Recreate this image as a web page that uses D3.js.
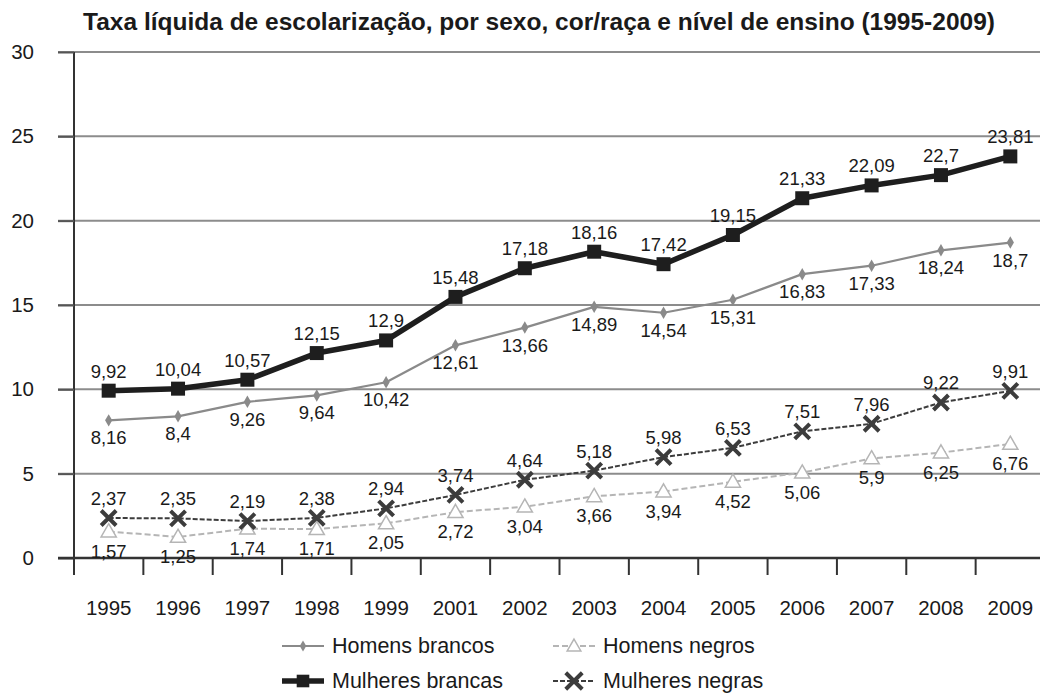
<!DOCTYPE html>
<html>
<head>
<meta charset="utf-8">
<script src="https://cdn.jsdelivr.net/npm/d3@7"></script>
<style>
  body { margin: 0; background: #fff; }
  svg { font-family: "Liberation Sans", Arial, sans-serif; }
</style>
</head>
<body>
<div id="chart"></div>
<script>
const width = 1040, height = 693;
const margin = { top: 52, right: -5, bottom: 135, left: 74 };

const titulo = "Taxa líquida de escolarização, por sexo, cor/raça e nível de ensino (1995-2009)";
const anos = ["1995", "1996", "1997", "1998", "1999", "2001", "2002", "2003", "2004", "2005", "2006", "2007", "2008", "2009"];
const homensBrancos = [8.16, 8.4, 9.26, 9.64, 10.42, 12.61, 13.66, 14.89, 14.54, 15.31, 16.83, 17.33, 18.24, 18.7];
const mulheresBrancas = [9.92, 10.04, 10.57, 12.15, 12.9, 15.48, 17.18, 18.16, 17.42, 19.15, 21.33, 22.09, 22.7, 23.81];
const homensNegros = [1.57, 1.25, 1.74, 1.71, 2.05, 2.72, 3.04, 3.66, 3.94, 4.52, 5.06, 5.9, 6.25, 6.76];
const mulheresNegras = [2.37, 2.35, 2.19, 2.38, 2.94, 3.74, 4.64, 5.18, 5.98, 6.53, 7.51, 7.96, 9.22, 9.91];
const yTicks = [0, 5, 10, 15, 20, 25, 30];

// estilos de cada serie
const series = [
  { nome: "Homens brancos", valores: homensBrancos, cor: "#8a8a8a", largura: 2.2, dash: null, marca: "diamond", dy: 24 },
  { nome: "Homens negros", valores: homensNegros, cor: "#b5b5b5", largura: 2, dash: "6,3", marca: "triangle", dy: 26 },
  { nome: "Mulheres brancas", valores: mulheresBrancas, cor: "#1e1e1e", largura: 5.5, dash: null, marca: "square", dy: -13 },
  { nome: "Mulheres negras", valores: mulheresNegras, cor: "#3c3c3c", largura: 2, dash: "5,2", marca: "cross", dy: -13 }
];

const svg = d3.select("#chart").append("svg")
  .attr("width", width)
  .attr("height", height);

const x = d3.scaleBand()
  .domain(anos)
  .range([margin.left, width - margin.right])
  .padding(0);

const y = d3.scaleLinear()
  .domain([0, 30])
  .range([height - margin.bottom, margin.top]);

const cx = d => x(d) + x.bandwidth() / 2;
const fmt = v => String(v).replace(".", ",");

// titulo
svg.append("text")
  .attr("x", 539)
  .attr("y", 30)
  .attr("text-anchor", "middle")
  .attr("font-size", "24.5px")
  .attr("font-weight", "bold")
  .attr("fill", "#1a1a1a")
  .text(titulo);

// linhas de grade
svg.append("g")
  .selectAll("line")
  .data(yTicks.filter(t => t > 0))
  .join("line")
  .attr("x1", 58)
  .attr("x2", width)
  .attr("y1", d => y(d))
  .attr("y2", d => y(d))
  .attr("stroke", "#8c8c8c")
  .attr("stroke-width", 2);

// eixo y
const yAxis = svg.append("g")
  .attr("transform", `translate(${margin.left},0)`)
  .call(d3.axisLeft(y).tickValues(yTicks).tickSize(16).tickPadding(24).tickFormat(d3.format("d")));
yAxis.select(".domain").attr("stroke", "#333").attr("stroke-width", 2).attr("d", `M0,${y(30)}V${y(0) + 17}`);
yAxis.selectAll(".tick line").attr("stroke", "#555").attr("stroke-width", 2);
yAxis.selectAll(".tick text").attr("font-size", "20.5px").attr("fill", "#1a1a1a").attr("font-family", "Liberation Sans, Arial, sans-serif");

// eixo x
const xAxis = svg.append("g")
  .attr("transform", `translate(0,${y(0)})`)
  .call(d3.axisBottom(x).tickSize(0).tickPadding(42));
xAxis.select(".domain").attr("stroke", "#333").attr("stroke-width", 2.5).attr("d", `M58,0H${width}`);
xAxis.selectAll(".tick text").attr("font-size", "20.5px").attr("fill", "#1a1a1a").attr("font-family", "Liberation Sans, Arial, sans-serif");

// marcas entre categorias
svg.append("g")
  .selectAll("line")
  .data(anos)
  .join("line")
  .attr("x1", d => x(d))
  .attr("x2", d => x(d))
  .attr("y1", y(0))
  .attr("y2", y(0) + 17)
  .attr("stroke", "#333")
  .attr("stroke-width", 2);

function desenhaMarca(g, tipo, cor, px, py, escala) {
  const s = escala || 1;
  if (tipo === "square") {
    g.append("rect").attr("x", px - 7 * s).attr("y", py - 7 * s).attr("width", 14 * s).attr("height", 14 * s).attr("fill", cor);
  } else if (tipo === "diamond") {
    g.append("path").attr("d", d3.symbol(d3.symbolDiamond, 45 * s * s)()).attr("transform", `translate(${px},${py})`).attr("fill", cor);
  } else if (tipo === "triangle") {
    g.append("path").attr("d", d3.symbol(d3.symbolTriangle, 100 * s * s)()).attr("transform", `translate(${px},${py + 1})`)
      .attr("fill", "#fff").attr("stroke", cor).attr("stroke-width", 1.5);
  } else if (tipo === "cross") {
    const r = 7.5 * s;
    g.append("path").attr("d", `M${px - r},${py - r}L${px + r},${py + r}M${px - r},${py + r}L${px + r},${py - r}`)
      .attr("stroke", cor).attr("stroke-width", 4);
  }
}

const linha = d3.line()
  .x((d, i) => cx(anos[i]))
  .y(d => y(d));

series.forEach(function (s) {
  const g = svg.append("g");
  g.append("path")
    .datum(s.valores)
    .attr("fill", "none")
    .attr("stroke", s.cor)
    .attr("stroke-width", s.largura)
    .attr("stroke-dasharray", s.dash)
    .attr("stroke-linejoin", "round")
    .attr("d", linha);

  s.valores.forEach(function (v, i) {
    desenhaMarca(g, s.marca, s.cor, cx(anos[i]), y(v));
  });

  g.selectAll("text")
    .data(s.valores)
    .join("text")
    .attr("x", (d, i) => cx(anos[i]))
    .attr("y", d => y(d) + s.dy)
    .attr("text-anchor", "middle")
    .attr("font-size", "18.5px")
    .attr("fill", "#1a1a1a")
    .text(d => fmt(d));
});

// legenda
const legenda = [
  { s: series[0], lx: 282, ly: 646 },
  { s: series[1], lx: 553, ly: 646 },
  { s: series[2], lx: 282, ly: 681 },
  { s: series[3], lx: 553, ly: 681 }
];
legenda.forEach(function (l) {
  const g = svg.append("g");
  g.append("line")
    .attr("x1", l.lx).attr("x2", l.lx + 42)
    .attr("y1", l.ly).attr("y2", l.ly)
    .attr("stroke", l.s.cor)
    .attr("stroke-width", l.s.largura)
    .attr("stroke-dasharray", l.s.dash);
  desenhaMarca(g, l.s.marca, l.s.cor, l.lx + 21, l.ly, l.s.marca === "cross" ? 1.1 : 0.9);
  g.append("text")
    .attr("x", l.lx + 50)
    .attr("y", l.ly + 7)
    .attr("font-size", "21.5px")
    .attr("fill", "#1a1a1a")
    .text(l.s.nome);
});
</script>
</body>
</html>
